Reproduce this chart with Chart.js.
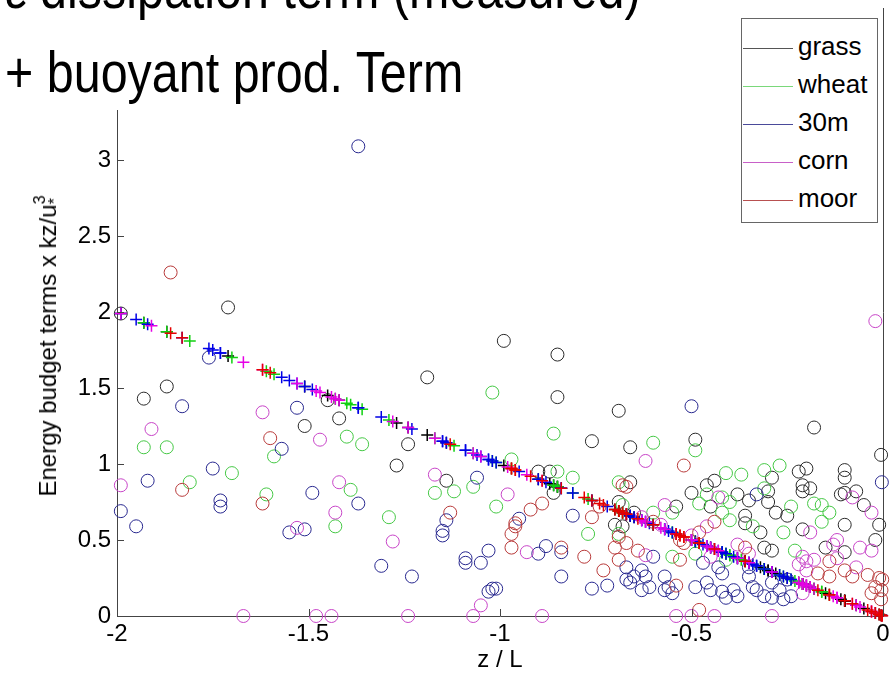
<!DOCTYPE html>
<html>
<head>
<meta charset="utf-8">
<script src="https://cdn.jsdelivr.net/npm/chart.js@4.4.1/dist/chart.umd.min.js"></script>
<style>
  html, body { margin: 0; padding: 0; background: #fff; }
  #wrap { position: relative; width: 892px; height: 686px; overflow: hidden; font-family: "Liberation Sans", Arial, sans-serif; }
  #chart { position: absolute; left: 0; top: 0; }
  #titleBox { position: absolute; left: 0; top: 0; width: 735px; height: 110px; background: #fff; overflow: hidden; }
  .tline { position: absolute; left: 5px; font-size: 57px; line-height: 57px; white-space: nowrap; transform: scaleX(0.85); transform-origin: 0 0; color: #000; }
  #ylab { position: absolute; left: 47px; top: 346px; transform: translate(-50%, -50%) rotate(-90deg); white-space: nowrap; font-size: 24px; color: #000; }
  #ylab .ss { display: inline-block; font-size: 16px; line-height: 15px; vertical-align: -4px; text-align: left; }
  #legend { position: absolute; left: 741px; top: 18px; width: 135px; height: 195px; border: 1px solid #666; background: #fff; padding-top: 8px; box-sizing: content-box; }
  .lrow { height: 38px; line-height: 38px; font-size: 26px; white-space: nowrap; color: #000; }
  .lline { display: inline-block; width: 50px; height: 0; border-top: 1px solid; vertical-align: middle; margin: 0 5px 0 1px; }
</style>
</head>
<body>
<div id="wrap">
  <canvas id="chart" width="892" height="686"></canvas>
  <div id="titleBox">
    <div class="tline" style="top:-40px">ε dissipation term (measured)</div>
    <div class="tline" style="top:44px">+ buoyant prod. Term</div>
  </div>
  <div id="ylab">Energy budget terms x kz/u<span class="ss">3<br>*</span></div>
  <div id="legend"></div>
</div>
<script>
// z/L vs energy budget terms: circles = dissipation (measured), pluses = buoyant production
var siteNames = ["grass", "wheat", "30m", "corn", "moor"];
var circleColors = ["#2a2a2a", "#45c845", "#28288f", "#c845c8", "#b83a3a"];
var plusColors = ["#000000", "#10d010", "#0000e6", "#e600e6", "#e60000"];
var legendColors = ["#555555", "#7ad87a", "#4a4a9a", "#c860c8", "#b85050"];

var xTicks = [-2, -1.5, -1, -0.5, 0];
var xTickLabels = ["-2", "-1.5", "-1", "-0.5", "0"];
var yTickLabels = ["0", "0.5", "1", "1.5", "2", "2.5", "3", "3.5", "4"];

var grassZL = [-1.99, -1.71, -1.87, -1.93, -1.45, -1.42, -1.51, -1.27, -0.99, -0.85,
  -1.19, -0.85, -0.69, -0.76, -1.24, -0.66, -1.14, -0.90, -0.87, -0.86,
  -0.69, -0.66, -0.70, -0.68, -0.18, -0.49, -0.22, -0.20, -0.10, -0.10,
  -0.29, -0.44, -0.46, -0.21, -0.19, -0.10, -0.30, -0.50, -0.005, -0.38,
  -0.35, -0.45, -0.54, -0.65, -0.36, -0.36, -0.30, -0.28, -0.25, -0.21,
  -0.11, -0.05, -0.01, -0.10, -0.21, -0.32, -0.29, -0.31, -0.15, -0.10,
  -0.02, -0.07];
var grassEps = [1.99, 2.03, 1.51, 1.43, 1.42, 1.30, 1.25, 0.99, 1.81, 1.72,
  1.57, 1.44, 1.35, 1.15, 1.13, 1.11, 0.89, 0.95, 0.95, 0.81,
  0.75, 0.88, 0.60, 0.59, 1.24, 1.16, 0.95, 0.97, 0.96, 0.91,
  0.91, 0.89, 0.86, 0.86, 0.84, 0.81, 0.82, 0.81, 1.06, 0.80,
  0.76, 0.72, 0.72, 0.68, 0.66, 0.61, 0.75, 0.68, 0.66, 0.82,
  0.80, 0.73, 0.60, 0.60, 0.57, 0.55, 0.43, 0.45, 0.45, 0.42,
  0.50, 0.82];
var grassBuoy = [1.99, 1.71, 1.87, 1.93, 1.45, 1.42, 1.51, 1.27, 0.99, 0.85,
  1.19, 0.85, 0.69, 0.76, 1.24, 0.66, 1.14, 0.90, 0.87, 0.86,
  0.69, 0.66, 0.70, 0.68, 0.18, 0.49, 0.22, 0.20, 0.10, 0.10,
  0.29, 0.44, 0.46, 0.21, 0.19, 0.10, 0.30, 0.50, 0.005, 0.38,
  0.35, 0.45, 0.54, 0.65, 0.36, 0.36, 0.30, 0.28, 0.25, 0.21,
  0.11, 0.05, 0.01, 0.10, 0.21, 0.32, 0.29, 0.31, 0.15, 0.10,
  0.02, 0.07];

var wheatZL = [-1.93, -1.87, -1.81, -1.70, -1.61, -1.59, -1.40, -1.36, -1.39, -1.43,
  -1.29, -1.17, -1.12, -1.07, -1.01, -1.02, -0.86, -0.97, -0.85, -0.81,
  -0.77, -0.69, -0.69, -0.60, -0.49, -0.41, -0.37, -0.31, -0.27, -0.31,
  -0.46, -0.42, -0.40, -0.48, -0.55, -0.68, -0.60, -0.42, -0.40, -0.34,
  -0.55, -0.49, -0.41, -0.24, -0.18, -0.16, -0.14, -0.16, -0.26, -0.23];
var wheatEps = [1.11, 1.11, 0.88, 0.94, 0.80, 1.05, 1.18, 1.13, 0.83, 0.59,
  0.65, 0.81, 0.82, 0.85, 0.72, 1.47, 1.20, 1.03, 0.95, 0.91,
  0.54, 0.54, 0.88, 1.14, 1.09, 0.94, 0.93, 0.96, 0.99, 0.84,
  0.80, 0.78, 0.75, 0.74, 0.68, 0.73, 0.68, 0.68, 0.63, 0.59,
  0.39, 0.41, 0.37, 0.72, 0.74, 0.73, 0.68, 0.62, 0.55, 0.43];
var wheatBuoy = [1.93, 1.87, 1.81, 1.70, 1.61, 1.59, 1.40, 1.36, 1.39, 1.43,
  1.29, 1.17, 1.12, 1.07, 1.01, 1.02, 0.86, 0.97, 0.85, 0.81,
  0.77, 0.69, 0.69, 0.60, 0.49, 0.41, 0.37, 0.31, 0.27, 0.31,
  0.46, 0.42, 0.40, 0.48, 0.55, 0.68, 0.60, 0.42, 0.40, 0.34,
  0.55, 0.49, 0.41, 0.24, 0.18, 0.16, 0.14, 0.16, 0.26, 0.23];

var m30ZL = [-1.37, -1.76, -1.83, -1.53, -1.57, -1.92, -1.75, -1.73, -1.73, -1.49,
  -1.37, -1.99, -1.95, -1.55, -1.51, -1.31, -0.50, -1.06, -1.14, -1.15,
  -1.15, -0.95, -1.03, -1.09, -1.09, -1.05, -1.23, -0.90, -0.88, -0.84,
  -0.84, -0.81, -0.76, -0.72, -0.67, -1.02, -1.01, -1.03, -0.003, -0.47,
  -0.43, -0.35, -0.35, -0.60, -0.67, -0.65, -0.63, -0.62, -0.61, -0.63,
  -0.66, -0.57, -0.56, -0.55, -0.57, -0.49, -0.46, -0.45, -0.42, -0.42,
  -0.39, -0.41, -0.38, -0.34, -0.33, -0.31, -0.29, -0.27, -0.26, -0.24,
  -0.25, -0.29, -0.33];
var m30Eps = [3.09, 1.70, 1.38, 1.37, 1.10, 0.89, 0.97, 0.76, 0.72, 0.81,
  0.74, 0.69, 0.59, 0.55, 0.57, 0.33, 1.38, 0.91, 0.63, 0.56,
  0.53, 0.64, 0.43, 0.38, 0.35, 0.35, 0.26, 0.41, 0.46, 0.42,
  0.26, 0.66, 0.18, 0.20, 0.24, 0.18, 0.18, 0.16, 0.88, 0.35,
  0.32, 0.32, 0.26, 0.39, 0.32, 0.26, 0.30, 0.26, 0.19, 0.17,
  0.22, 0.26, 0.19, 0.15, 0.17, 0.19, 0.22, 0.17, 0.16, 0.28,
  0.17, 0.12, 0.13, 0.19, 0.17, 0.13, 0.12, 0.17, 0.11, 0.13,
  0.24, 0.22, 0.80];
var m30Buoy = [1.37, 1.76, 1.83, 1.53, 1.57, 1.92, 1.75, 1.73, 1.73, 1.49,
  1.37, 1.99, 1.95, 1.55, 1.51, 1.31, 0.50, 1.06, 1.14, 1.15,
  1.15, 0.95, 1.03, 1.09, 1.09, 1.05, 1.23, 0.90, 0.88, 0.84,
  0.84, 0.81, 0.76, 0.72, 0.67, 1.02, 1.01, 1.03, 0.003, 0.47,
  0.43, 0.35, 0.35, 0.60, 0.67, 0.65, 0.63, 0.62, 0.61, 0.63,
  0.66, 0.57, 0.56, 0.55, 0.57, 0.49, 0.46, 0.45, 0.42, 0.42,
  0.39, 0.41, 0.38, 0.34, 0.33, 0.31, 0.29, 0.27, 0.26, 0.24,
  0.25, 0.29, 0.33];

var cornZL = [-1.67, -1.48, -1.44, -1.24, -1.07, -1.05, -0.89, -0.54, -0.50, -0.44,
  -0.29, -1.99, -1.91, -1.62, -1.47, -1.42, -1.43, -1.28, -1.53, -1.17,
  -0.98, -0.93, -0.62, -0.02, -0.43, -0.57, -0.63, -0.58, -0.46, -0.50,
  -0.62, -0.45, -0.38, -0.35, -0.08, -0.03, -0.19, -0.12, -0.13, -0.06,
  -0.03, -0.21, -0.20, -0.18, -0.12, -0.07, -0.20, -0.22, -0.21];
var cornEps = [0, 0, 0, 0, 0, 0.07, 0, 0, 0, 0,
  0, 0.86, 1.23, 1.34, 1.16, 0.88, 0.68, 0.49, 0.58, 0.93,
  0.80, 0.42, 1.02, 1.94, 0.78, 0.73, 0.65, 0.60, 0.59, 0.53,
  0.40, 0.39, 0.47, 0.41, 0.78, 0.68, 0.55, 0.50, 0.47, 0.45,
  0.43, 0.39, 0.36, 0.37, 0.38, 0.32, 0.30, 0.34, 0.15];
var cornBuoy = [1.67, 1.48, 1.44, 1.24, 1.07, 1.05, 0.89, 0.54, 0.50, 0.44,
  0.29, 1.99, 1.91, 1.62, 1.47, 1.42, 1.43, 1.28, 1.53, 1.17,
  0.98, 0.93, 0.62, 0.02, 0.43, 0.57, 0.63, 0.58, 0.46, 0.50,
  0.62, 0.45, 0.38, 0.35, 0.08, 0.03, 0.19, 0.12, 0.13, 0.06,
  0.03, 0.21, 0.20, 0.18, 0.12, 0.07, 0.20, 0.22, 0.21];

var moorZL = [-1.86, -1.60, -1.83, -1.62, -1.13, -0.96, -0.96, -0.97, -0.97, -0.92,
  -0.89, -0.84, -0.78, -0.76, -0.73, -0.69, -0.70, -0.69, -0.68, -0.74,
  -0.52, -0.67, -0.60, -0.44, -0.48, -0.52, -0.53, -0.53, -0.36, -0.67,
  -0.64, -0.54, -0.48, -0.14, -0.10, -0.08, -0.04, -0.01, -0.002, -0.004,
  -0.02, -0.03, -0.14, -0.17, -0.005];
var moorEps = [2.26, 1.17, 0.83, 0.74, 0.68, 0.61, 0.59, 0.54, 0.45, 0.70,
  0.74, 0.45, 0.39, 0.65, 0.30, 0.37, 0.45, 0.52, 0.86, 0.72,
  0.99, 0.85, 0.62, 0.62, 0.55, 0.48, 0.50, 0.37, 0.45, 0.48,
  0.43, 0.20, 0.04, 0.36, 0.30, 0.26, 0.27, 0.25, 0.24, 0.17,
  0.19, 0.15, 0.26, 0.28, 0.11];
var moorBuoy = [1.86, 1.60, 1.83, 1.62, 1.13, 0.96, 0.96, 0.97, 0.97, 0.92,
  0.89, 0.84, 0.78, 0.76, 0.73, 0.69, 0.70, 0.69, 0.68, 0.74,
  0.52, 0.67, 0.60, 0.44, 0.48, 0.52, 0.53, 0.53, 0.36, 0.67,
  0.64, 0.54, 0.48, 0.14, 0.10, 0.08, 0.04, 0.01, 0.002, 0.004,
  0.02, 0.03, 0.14, 0.17, 0.005];

(function () {
  "use strict";

  var FONT = "'Liberation Sans', Arial, sans-serif";
  Chart.defaults.font.family = FONT;
  Chart.defaults.color = "#000";

  var sites = [
    { zl: grassZL, eps: grassEps, buoy: grassBuoy },
    { zl: wheatZL, eps: wheatEps, buoy: wheatBuoy },
    { zl: m30ZL, eps: m30Eps, buoy: m30Buoy },
    { zl: cornZL, eps: cornEps, buoy: cornBuoy },
    { zl: moorZL, eps: moorEps, buoy: moorBuoy }
  ];

  function pts(xs, ys) {
    return xs.map(function (x, i) { return { x: x, y: ys[i] }; });
  }

  // later sites drawn on top (lower order = drawn later)
  var datasets = [];
  sites.forEach(function (s, i) {
    datasets.push({
      label: siteNames[i] + " dissipation",
      data: pts(s.zl, s.eps),
      pointStyle: "circle",
      pointRadius: 6.5,
      borderWidth: 1,
      borderColor: circleColors[i],
      backgroundColor: "rgba(0,0,0,0)",
      clip: false,
      order: 20 - i * 2
    });
    datasets.push({
      label: siteNames[i] + " buoyant",
      data: pts(s.zl, s.buoy),
      pointStyle: "cross",
      pointRadius: 6,
      borderWidth: 1.5,
      borderColor: plusColors[i],
      backgroundColor: plusColors[i],
      clip: false,
      order: 19 - i * 2
    });
  });

  // MATLAB-style tick marks pointing into the axes
  var inwardTicks = {
    id: "inwardTicks",
    afterDraw: function (chart) {
      var ctx = chart.ctx, area = chart.chartArea;
      var sx = chart.scales.x, sy = chart.scales.y;
      ctx.save();
      ctx.strokeStyle = "#444";
      ctx.lineWidth = 1;
      sx.ticks.forEach(function (t) {
        var px = Math.round(sx.getPixelForValue(t.value)) + 0.5;
        ctx.beginPath();
        ctx.moveTo(px, area.bottom);
        ctx.lineTo(px, area.bottom - 7);
        ctx.stroke();
      });
      sy.ticks.forEach(function (t) {
        var py = Math.round(sy.getPixelForValue(t.value)) + 0.5;
        ctx.beginPath();
        ctx.moveTo(area.left, py);
        ctx.lineTo(area.left + 7, py);
        ctx.stroke();
      });
      ctx.restore();
    }
  };

  var tickFont = { family: FONT, size: 24 };

  new Chart(document.getElementById("chart").getContext("2d"), {
    type: "scatter",
    data: { datasets: datasets },
    plugins: [inwardTicks],
    options: {
      responsive: false,
      animation: false,
      events: [],
      layout: { padding: { left: 0, right: 9, top: 8, bottom: 0 } },
      plugins: { legend: { display: false }, tooltip: { enabled: false } },
      scales: {
        x: {
          type: "linear",
          min: -2,
          max: 0,
          afterBuildTicks: function (s) {
            s.ticks = xTicks.map(function (v) { return { value: v }; });
          },
          ticks: {
            font: tickFont,
            color: "#000",
            padding: 4,
            maxRotation: 0,
            callback: function (v) { return xTickLabels[xTicks.indexOf(v)]; }
          },
          grid: { drawOnChartArea: false, drawTicks: false },
          border: { color: "#444", width: 1 },
          title: { display: true, text: "z / L", font: { family: FONT, size: 24 }, color: "#000", padding: { top: 0, bottom: 11 } },
          afterFit: function (s) { s.height = 70; s.paddingLeft = 0; s.paddingRight = 0; }
        },
        y: {
          type: "linear",
          min: 0,
          max: 4,
          ticks: {
            stepSize: 0.5,
            font: tickFont,
            color: "#000",
            padding: 6,
            callback: function (v) { return yTickLabels[Math.round(v * 2)]; }
          },
          grid: { drawOnChartArea: false, drawTicks: false },
          border: { color: "#444", width: 1 },
          afterFit: function (s) { s.width = 117; s.paddingTop = 0; s.paddingBottom = 0; }
        },
        yRight: {
          type: "linear",
          position: "right",
          min: 0,
          max: 4,
          ticks: { display: false },
          grid: { drawOnChartArea: false, drawTicks: false },
          border: { color: "#444", width: 1 },
          afterFit: function (s) { s.width = 0; }
        }
      }
    }
  });

  // legend box (line samples, as in the original figure)
  var legend = document.getElementById("legend");
  siteNames.forEach(function (name, i) {
    var row = document.createElement("div");
    row.className = "lrow";
    row.innerHTML = '<span class="lline" style="border-color:' + legendColors[i] + '"></span>' + name;
    legend.appendChild(row);
  });
})();
</script>
</body>
</html>
